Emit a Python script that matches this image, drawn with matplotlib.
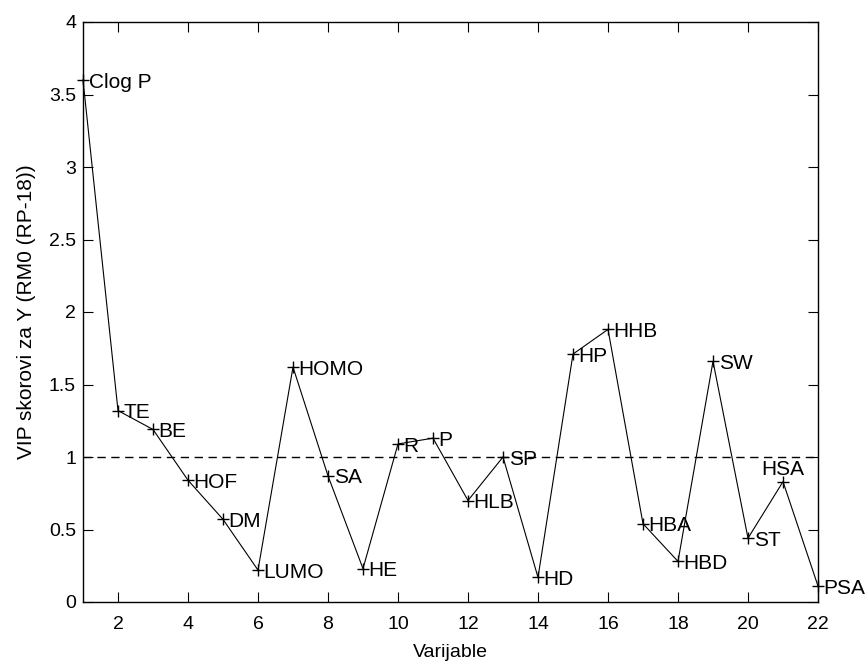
import matplotlib.pyplot as plt

plt.rcParams['font.family'] = ['Liberation Sans', 'DejaVu Sans']

variables = list(range(1, 23))
vip = [3.60, 1.32, 1.19, 0.84, 0.57, 0.22, 1.62, 0.87, 0.23, 1.09, 1.13,
       0.70, 1.00, 0.17, 1.71, 1.88, 0.54, 0.28, 1.66, 0.44, 0.83, 0.11]
names = ['Clog P', 'TE', 'BE', 'HOF', 'DM', 'LUMO', 'HOMO', 'SA', 'HE', 'R', 'P',
         'HLB', 'SP', 'HD', 'HP', 'HHB', 'HBA', 'HBD', 'SW', 'ST', 'HSA', 'PSA']
threshold = 1.0

fig = plt.figure(figsize=(8.68, 6.62), dpi=100)
ax = fig.add_axes([83 / 868, 1 - 602 / 662, 735 / 868, 580 / 662])

ax.plot(variables, vip, color='black', linewidth=0.8, marker='+',
        markersize=9, markeredgewidth=1.0, clip_on=False, zorder=3)
ax.axhline(threshold, color='black', linestyle=(0, (6, 4)), linewidth=1.0)

for x, y, name in zip(variables, vip, names):
    if name == 'HSA':
        ax.annotate(name, (x, y), xytext=(0, 2), textcoords='offset points',
                    ha='center', va='bottom', fontsize=15)
    else:
        ax.annotate(name, (x, y), xytext=(4, -1.5), textcoords='offset points',
                    ha='left', va='center', fontsize=15, annotation_clip=False)

ax.set_xlim(1, 22)
ax.set_ylim(0, 4)
ax.set_xticks(range(2, 23, 2))
ax.set_yticks([0, 0.5, 1, 1.5, 2, 2.5, 3, 3.5, 4])
ax.set_yticklabels(['0', '0.5', '1', '1.5', '2', '2.5', '3', '3.5', '4'])
ax.tick_params(direction='in', top=True, right=True, length=7, labelsize=14)
ax.tick_params(axis='x', pad=10)
ax.tick_params(axis='y', pad=5)
for s in ax.spines.values():
    s.set_linewidth(1.0)

ax.set_xlabel('Varijable', fontsize=14, labelpad=8)
ax.set_ylabel('VIP skorovi za Y (RM0 (RP-18))', fontsize=15, labelpad=9)

fig.savefig('out.png', dpi=100)
